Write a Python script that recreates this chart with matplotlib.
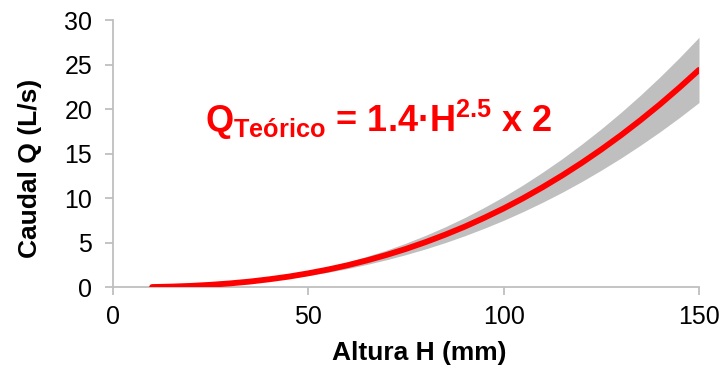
import matplotlib
matplotlib.use("Agg")
import matplotlib.pyplot as plt

H_mm = [10, 15, 20, 25, 30, 35, 40, 45, 50, 55, 60, 65, 70, 75, 80, 85, 90, 95,
        100, 105, 110, 115, 120, 125, 130, 135, 140, 145, 150]
Q_teo = [0.03, 0.08, 0.16, 0.28, 0.44, 0.64, 0.90, 1.20, 1.57, 1.99, 2.47, 3.02,
         3.63, 4.31, 5.07, 5.90, 6.80, 7.79, 8.85, 10.00, 11.24, 12.56, 13.97,
         15.47, 17.06, 18.75, 20.53, 22.42, 24.40]
Q_low = [0.03, 0.07, 0.13, 0.24, 0.37, 0.55, 0.76, 1.02, 1.33, 1.69, 2.10, 2.57,
         3.09, 3.67, 4.31, 5.01, 5.78, 6.62, 7.52, 8.50, 9.55, 10.67, 11.87,
         13.15, 14.50, 15.94, 17.45, 19.05, 20.74]
Q_high = [0.03, 0.09, 0.18, 0.32, 0.50, 0.74, 1.03, 1.38, 1.80, 2.28, 2.84, 3.47,
          4.17, 4.96, 5.83, 6.78, 7.82, 8.96, 10.18, 11.50, 12.93, 14.44, 16.07,
          17.79, 19.62, 21.56, 23.61, 25.78, 28.06]
x_ticks = [0, 50, 100, 150]
y_ticks = [0, 5, 10, 15, 20, 25, 30]

plt.rcParams['font.family'] = ['Liberation Sans', 'DejaVu Sans']
plt.rcParams['mathtext.fontset'] = 'custom'
plt.rcParams['mathtext.rm'] = 'Liberation Sans:bold'
plt.rcParams['mathtext.bf'] = 'Liberation Sans:bold'
plt.rcParams['mathtext.it'] = 'Liberation Sans:bold'

W, Hh = 725, 367
fig = plt.figure(figsize=(W / 100, Hh / 100), dpi=100)
ax = fig.add_axes([113 / W, (Hh - 287.3) / Hh, (699 - 113) / W, (287.3 - 20) / Hh])

ax.fill_between(H_mm, Q_low, Q_high, color='#bfbfbf', linewidth=0, zorder=1)
ax.plot(H_mm, Q_teo, color='#ff0000', linewidth=4.2, solid_capstyle='round',
        solid_joinstyle='round', zorder=3)

ax.set_xlim(0, 150)
ax.set_ylim(0, 30)
ax.set_xticks(x_ticks)
ax.set_yticks(y_ticks)
for s in ['top', 'right']:
    ax.spines[s].set_visible(False)
for s in ['left', 'bottom']:
    ax.spines[s].set_color('#bfbfbf')
    ax.spines[s].set_linewidth(1.3)
    ax.spines[s].set_zorder(0.5)
ax.tick_params(axis='both', colors='#bfbfbf', width=1.3, length=6,
               labelcolor='black', labelsize=18)
ax.tick_params(axis='y', pad=9)
ax.tick_params(axis='x', pad=7)

fig.text(419 / W, 1 - 353 / Hh, 'Altura H (mm)', ha='center', va='center',
         fontsize=19, fontweight='bold')
fig.text(30 / W, 1 - 168 / Hh, 'Caudal Q (L/s)', ha='center', va='center',
         fontsize=19, fontweight='bold', rotation=90)

fig.text(205 / W, 1 - 132 / Hh,
         r'$\mathbf{Q_{Teórico}}$ = 1.4·H$^{\mathbf{2.5}}$ x 2',
         ha='left', va='baseline', fontsize=26, fontweight='bold', color='#ff0000')

fig.savefig('out.png', dpi=100)
